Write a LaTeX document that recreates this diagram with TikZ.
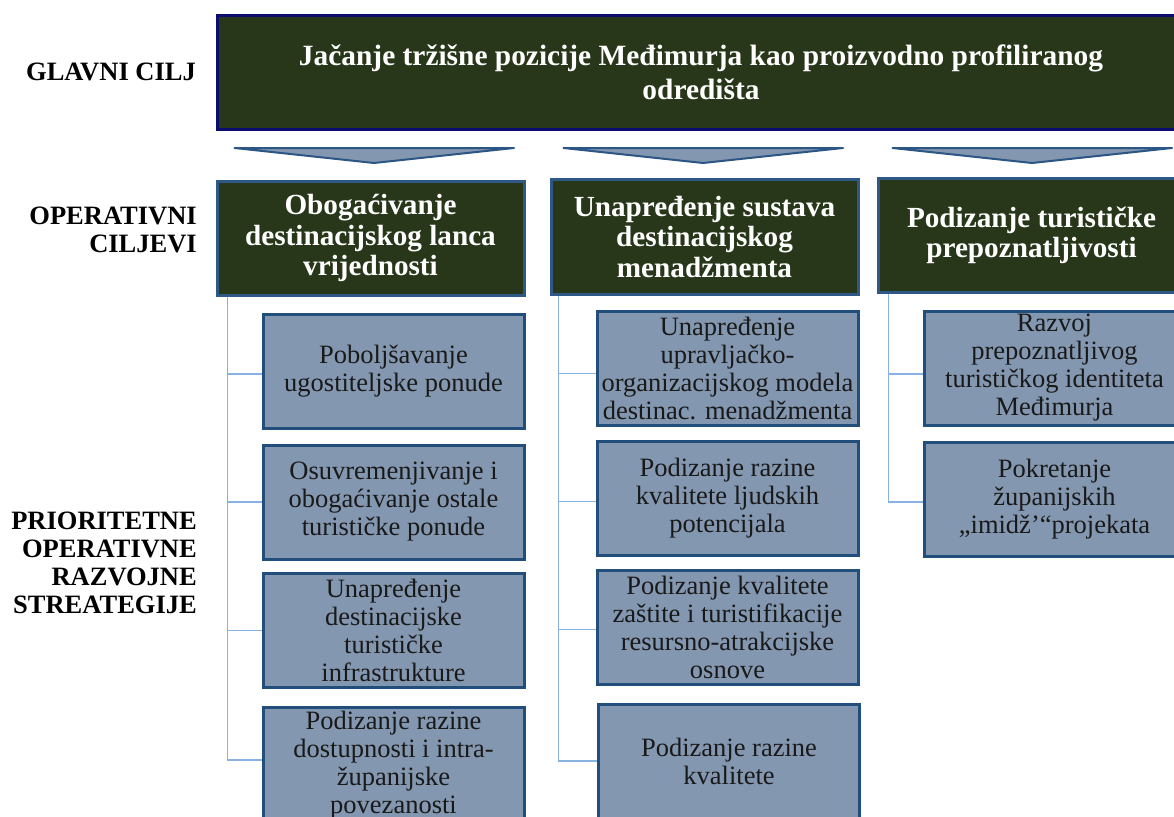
\documentclass[tikz,border=0pt]{standalone}
\usepackage{fontspec}
\setmainfont{Liberation Serif}
\definecolor{dgreen}{RGB}{40,55,26}
\definecolor{mainborder}{RGB}{12,12,112}
\definecolor{lvtwoborder}{RGB}{46,88,134}
\definecolor{lvthreefill}{RGB}{132,151,176}
\definecolor{lvthreeborder}{RGB}{33,78,122}
\definecolor{chevborder}{RGB}{44,86,132}
\definecolor{connline}{RGB}{135,178,226}
\begin{document}
\begin{tikzpicture}[x=1pt,y=-1pt,
  mainbox/.style={draw=mainborder,line width=3pt,fill=dgreen,text=white,align=center,
    minimum width=968pt,minimum height=114pt,inner sep=2pt,
    font=\bfseries\fontsize{29.4}{34}\selectfont},
  goalbox/.style={draw=lvtwoborder,line width=3pt,fill=dgreen,text=white,align=center,
    minimum width=307pt,minimum height=114pt,inner sep=2pt,
    font=\bfseries\fontsize{29.2}{30.5}\selectfont},
  stratbox/.style={draw=lvthreeborder,line width=3pt,fill=lvthreefill,text=black!90,align=center,
    minimum width=261pt,minimum height=114pt,inner sep=1pt,
    font=\fontsize{26.5}{28}\selectfont},
  sidelabel/.style={anchor=east,align=right,inner sep=0pt,
    font=\bfseries\fontsize{26.5}{28}\selectfont},
  chev/.style={draw=chevborder,fill=lvthreefill,line width=2pt,line join=round},
  conn/.style={draw=connline,line width=1.6pt}
]
\useasboundingbox (0,0) rectangle (1174,816);

% side labels
\node[sidelabel] (lglavni) at (196,72) {GLAVNI CILJ};
\node[sidelabel] (loper) at (197,230) {OPERATIVNI\\CILJEVI};
\node[sidelabel] (lprior) at (197,563) {PRIORITETNE\\OPERATIVNE\\RAZVOJNE\\STREATEGIJE};

% main goal
\node[mainbox] (main) at (701,72.25) {Jačanje tržišne pozicije Međimurja kao proizvodno profiliranog\\odredišta};

% chevrons
\draw[chev] (234.5,148) -- (514,148) -- (374,163) -- cycle;
\draw[chev] (563.5,148) -- (843,148) -- (703,163) -- cycle;
\draw[chev] (892.5,148) -- (1172,148) -- (1032,163) -- cycle;

% operational goals
\node[goalbox] (g1) at (370.5,238) {Obogaćivanje\\destinacijskog lanca\\vrijednosti};
\node[goalbox,minimum height=115pt] (g2) at (704.5,237) {Unapređenje sustava\\destinacijskog\\menadžmenta};
\node[goalbox,minimum height=114pt] (g3) at (1031.5,235.5) {Podizanje turističke\\prepoznatljivosti};

% column 1
\node[stratbox] (c1a) at (393.5,371) {Poboljšavanje\\ugostiteljske ponude};
\node[stratbox] (c1b) at (393.5,502) {Osuvremenjivanje i\\obogaćivanje ostale\\turističke ponude};
\node[stratbox] (c1c) at (393.5,630.5) {Unapređenje\\destinacijske\\turističke\\infrastrukture};
\node[stratbox] (c1d) at (393.5,764.7) {Podizanje razine\\dostupnosti i intra-\\županijske\\povezanosti};

% column 2
\node[stratbox] (c2a) at (727.5,368.3) {Unapređenje\\upravljačko-\\organizacijskog modela\\destinac. menadžmenta};
\node[stratbox] (c2b) at (727.5,498.5) {Podizanje razine\\kvalitete ljudskih\\potencijala};
\node[stratbox] (c2c) at (727.5,627.5) {Podizanje kvalitete\\zaštite i turistifikacije\\resursno-atrakcijske\\osnove};
\node[stratbox] (c2d) at (729,761) {Podizanje razine\\kvalitete};

% column 3
\node[stratbox] (c3a) at (1054.5,368) {Razvoj\\prepoznatljivog\\turističkog identiteta\\Međimurja};
\node[stratbox] (c3b) at (1054.5,499) {Pokretanje\\županijskih\\„imidž’“projekata};

% connectors
\draw[conn] ([xshift=12pt]g1.south west) |- ([yshift=-3pt]c1a.west);
\draw[conn] ([xshift=12pt]g1.south west) |- (c1b.west);
\draw[conn] ([xshift=12pt]g1.south west) |- (c1c.west);
\draw[conn] ([xshift=12pt]g1.south west) |- ([yshift=5pt]c1d.west);

\draw[conn] ([xshift=9pt]g2.south west) |- ([yshift=-5pt]c2a.west);
\draw[conn] ([xshift=9pt]g2.south west) |- ([yshift=-3pt]c2b.west);
\draw[conn] ([xshift=9pt]g2.south west) |- ([yshift=-2pt]c2c.west);
\draw[conn] ([xshift=9pt]g2.south west) |- (c2d.west);

\draw[conn] ([xshift=12pt]g3.south west) |- ([yshift=-6pt]c3a.west);
\draw[conn] ([xshift=12pt]g3.south west) |- ([yshift=-3pt]c3b.west);
\end{tikzpicture}
\end{document}
